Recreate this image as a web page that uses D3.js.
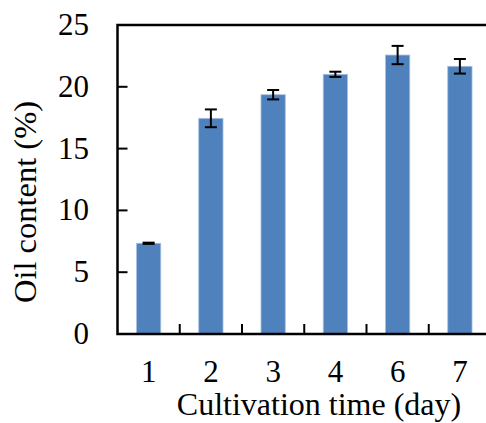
<!DOCTYPE html>
<html><head><meta charset="utf-8"><script src="https://d3js.org/d3.v7.min.js"></script>
<style>body{margin:0;background:#fff;}text{font-family:"Liberation Serif","Times New Roman",serif;fill:#000;}</style>
</head>
<body>
<script>
// data
days=["1","2","3","4","6","7"];
oil=[7.34,17.45,19.36,21.01,22.57,21.66];
err=[0.05,0.72,0.38,0.21,0.74,0.59];
yTicks=[0,5,10,15,20,25];

W=486;H=423;
pL=117.5;pT=25;pB=334;pR=491;

svg=d3.select("body").append("svg")
.attr("width",W)
.attr("height",H);

x=d3.scaleBand().domain(days).range([pL,pR]).paddingInner(0.61).paddingOuter(0.305);
xb=d3.scaleBand().domain(days).range([pL,pR]);
y=d3.scaleLinear().domain([0,25]).range([pB,pT]);

// bars
svg.selectAll("rect.bar")
.data(days)
.enter()
.append("rect")
.attr("class","bar")
.attr("x",function(d){return x(d);})
.attr("width",x.bandwidth())
.attr("y",function(d,i){return y(oil[i]);})
.attr("height",function(d,i){return pB-y(oil[i]);})
.attr("fill","#4f81bd")
.attr("stroke","#a9c0e0")
.attr("stroke-width",0.8);

// error bars
eb=svg.selectAll("g.err").data(days).enter().append("g")
.attr("transform",function(d){return "translate("+(x(d)+x.bandwidth()/2)+",0)";});
eb.append("line")
.attr("y1",function(d,i){return y(oil[i]-err[i]);})
.attr("y2",function(d,i){return y(oil[i]+err[i]);})
.attr("stroke","#000").attr("stroke-width",2);
[-1,1].forEach(function(s){
  eb.append("line")
  .attr("x1",-6).attr("x2",6)
  .attr("y1",function(d,i){return y(oil[i]+s*err[i]);})
  .attr("y2",function(d,i){return y(oil[i]+s*err[i]);})
  .attr("stroke","#000").attr("stroke-width",2);
});

// frame
svg.append("path")
.attr("d","M"+pR+","+pT+"H"+pL+"V"+pB+"H"+pR)
.attr("fill","none").attr("stroke","#000").attr("stroke-width",2.5);

// y ticks (inward)
svg.selectAll("line.yt").data(yTicks.slice(1,5)).enter().append("line")
.attr("x1",pL).attr("x2",pL+10)
.attr("y1",function(d){return y(d);}).attr("y2",function(d){return y(d);})
.attr("stroke","#000").attr("stroke-width",2);
svg.selectAll("text.yl").data(yTicks).enter().append("text")
.attr("x",89).attr("y",function(d){return y(d)+10;})
.attr("text-anchor","end")
.style("font-size","31px")
.text(function(d){return d;});

// x ticks at band boundaries (inward)
svg.selectAll("line.xt").data(days.slice(1)).enter().append("line")
.attr("x1",function(d){return xb(d);}).attr("x2",function(d){return xb(d);})
.attr("y1",pB).attr("y2",pB-10)
.attr("stroke","#000").attr("stroke-width",2);
svg.selectAll("text.xl").data(days).enter().append("text")
.attr("x",function(d){return x(d)+x.bandwidth()/2;})
.attr("y",382)
.attr("text-anchor","middle")
.style("font-size","31px")
.text(function(d){return d;});

// axis titles
svg.append("text")
.attr("x",319).attr("y",415)
.attr("text-anchor","middle")
.style("font-size","32px")
.text("Cultivation time (day)");
svg.append("text")
.attr("transform","translate(36,202) rotate(-90)")
.attr("text-anchor","middle")
.style("font-size","32.5px")
.text("Oil content (%)");
</script>
</body></html>
